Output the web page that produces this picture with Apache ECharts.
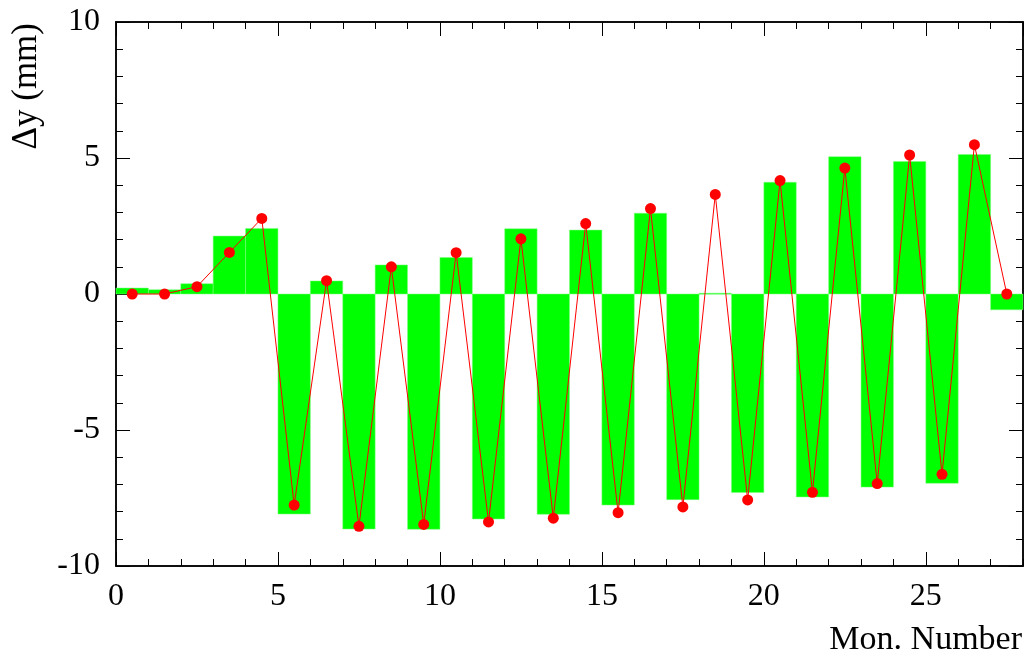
<!DOCTYPE html>
<html>
<head>
<meta charset="utf-8">
<script src="https://cdn.jsdelivr.net/npm/echarts@6/dist/echarts.min.js"></script>
<style>
  html, body { margin: 0; padding: 0; background: #fff; }
  #chart { width: 1029px; height: 660px; }
</style>
</head>
<body>
<div id="chart"></div>
<script>
// ---- Data ----
const binStarts = [0,1,2,3,4,5,6,7,8,9,10,11,12,13,14,15,16,17,18,19,20,21,22,23,24,25,26,27];
const binEnds   = [1,2,3,4,5,6,7,8,9,10,11,12,13,14,15,16,17,18,19,20,21,22,23,24,25,26,27,28];
const barValues = [0.22,0.16,0.38,2.13,2.41,-8.09,0.48,-8.64,1.07,-8.65,1.34,-8.27,2.40,-8.10,2.35,-7.76,
                   2.97,-7.56,0.03,-7.30,4.11,-7.46,5.05,-7.10,4.87,-6.96,5.13,-0.58];
const pointX = [0.5,1.5,2.5,3.5,4.5,5.5,6.5,7.5,8.5,9.5,10.5,11.5,12.5,13.5,14.5,15.5,16.5,17.5,18.5,19.5,
                20.5,21.5,22.5,23.5,24.5,25.5,26.5,27.5];
const pointValues = [0,0,0.27,1.53,2.78,-7.76,0.49,-8.54,1.00,-8.47,1.52,-8.38,2.03,-8.24,2.59,-8.04,
                     3.14,-7.83,3.66,-7.57,4.17,-7.29,4.63,-6.97,5.11,-6.63,5.49,0];
const xLabelTitle = 'Mon. Number';
const yLabelTitle = 'Δy (mm)';
const xRange = [0, 28];
const yRange = [-10, 10];

// ---- Chart ----
const FONT = '"Liberation Serif", "DejaVu Serif", serif';
const chart = echarts.init(document.getElementById('chart'), null, { renderer: 'canvas' });

const barData = binStarts.map((s, i) => [s, binEnds[i], barValues[i]]);
const lineData = pointX.map((x, i) => [x, pointValues[i]]);

function xAxisDef(position, interval, tickLen, showLabel) {
  return {
    type: 'value', position: position, min: xRange[0], max: xRange[1], interval: interval,
    axisLine: { show: true, onZero: false, lineStyle: { color: '#000', width: 1.5 } },
    axisTick: { show: true, inside: true, length: tickLen, lineStyle: { color: '#000', width: 1 } },
    axisLabel: { show: showLabel, showMaxLabel: false, margin: 15, fontFamily: FONT, fontSize: 32, color: '#000' },
    splitLine: { show: false }
  };
}
function yAxisDef(position, interval, tickLen, showLabel) {
  return {
    type: 'value', position: position, min: yRange[0], max: yRange[1], interval: interval,
    axisLine: { show: true, onZero: false, lineStyle: { color: '#000', width: 1.5 } },
    axisTick: { show: true, inside: true, length: tickLen, lineStyle: { color: '#000', width: 1 } },
    axisLabel: { show: showLabel, margin: 16, fontFamily: FONT, fontSize: 32, color: '#000' },
    splitLine: { show: false }
  };
}

const option = {
  backgroundColor: '#fff',
  animation: false,
  grid: { left: 116, right: 6, top: 22, bottom: 94, containLabel: false },
  xAxis: [
    xAxisDef('bottom', 5, 14, true),
    xAxisDef('bottom', 1, 7, false),
    xAxisDef('top', 5, 14, false),
    xAxisDef('top', 1, 7, false)
  ],
  yAxis: [
    yAxisDef('left', 5, 14, true),
    yAxisDef('left', 1, 7, false),
    yAxisDef('right', 5, 14, false),
    yAxisDef('right', 1, 7, false)
  ],
  graphic: [
    {
      type: 'text', x: 1022, y: 640,
      style: { text: xLabelTitle, fontFamily: FONT, fontSize: 34, fill: '#000', align: 'right', verticalAlign: 'middle' }
    },
    {
      type: 'text', x: 27, y: 23, rotation: Math.PI / 2,
      style: { text: yLabelTitle, fontFamily: FONT, fontSize: 35, fill: '#000', align: 'right', verticalAlign: 'middle' }
    }
  ],
  series: [
    {
      type: 'custom',
      xAxisIndex: 0, yAxisIndex: 0,
      data: barData,
      encode: { x: [0, 1], y: 2 },
      z: 1,
      renderItem: function (params, api) {
        const p0 = api.coord([api.value(0), 0]);
        const p1 = api.coord([api.value(1), api.value(2)]);
        const x = Math.min(p0[0], p1[0]);
        const y = Math.min(p0[1], p1[1]);
        const w = Math.abs(p1[0] - p0[0]);
        const h = Math.max(Math.abs(p1[1] - p0[1]), 1);
        return {
          type: 'rect',
          shape: { x: x, y: y, width: w, height: h },
          style: { fill: '#00ff00', stroke: '#7fff7f', lineWidth: 0.5 }
        };
      }
    },
    {
      type: 'line',
      xAxisIndex: 0, yAxisIndex: 0,
      data: lineData,
      z: 3,
      symbol: 'circle',
      symbolSize: 11,
      lineStyle: { color: '#ff0000', width: 1 },
      itemStyle: { color: '#ff0000' }
    }
  ]
};
chart.setOption(option);
</script>
</body>
</html>
